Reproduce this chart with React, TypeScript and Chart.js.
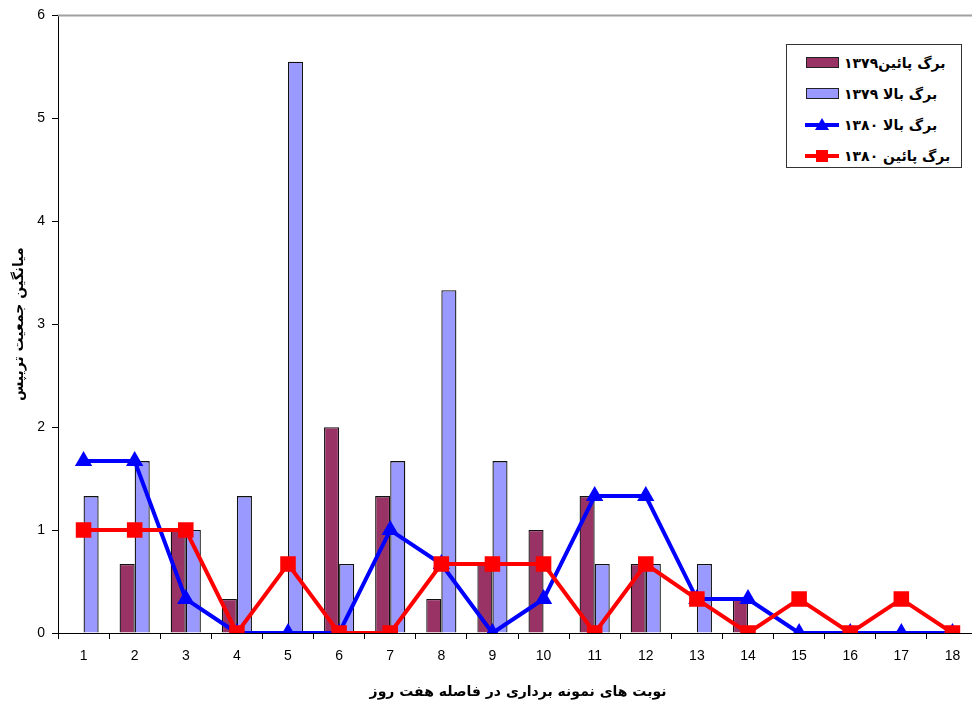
import { useEffect, useRef } from 'react';
import { Chart, registerables } from 'chart.js';

Chart.register(...registerables);

const CATEGORIES = ['1', '2', '3', '4', '5', '6', '7', '8', '9', '10', '11', '12', '13', '14', '15', '16', '17', '18'];
const LOWER_1379 = [0, 0.67, 1, 0.33, 0, 2, 1.33, 0.33, 0.67, 1, 1.33, 0.67, 0, 0.33, 0, 0, 0, 0];
const UPPER_1379 = [1.33, 1.67, 1, 1.33, 5.55, 0.67, 1.67, 3.33, 1.67, 0, 0.67, 0.67, 0.67, 0, 0, 0, 0, 0];
const UPPER_1380 = [1.67, 1.67, 0.33, 0, 0, 0, 1, 0.67, 0, 0.33, 1.33, 1.33, 0.33, 0.33, 0, 0, 0, 0];
const LOWER_1380 = [1, 1, 1, 0, 0.67, 0, 0, 0.67, 0.67, 0.67, 0, 0.67, 0.33, 0, 0.33, 0, 0.33, 0];

const LABEL_LOWER_1379 = 'برگ پائین۱۳۷۹';
const LABEL_UPPER_1379 = 'برگ بالا ۱۳۷۹';
const LABEL_UPPER_1380 = 'برگ بالا ۱۳۸۰';
const LABEL_LOWER_1380 = 'برگ پائین ۱۳۸۰';
const X_TITLE = 'نوبت های نمونه برداری در فاصله هفت روز';
const Y_TITLE = 'میانگین جمعیت تریپس';

const PURPLE = '#993366';
const LAVENDER = '#9999FF';
const BLUE = '#0000FF';
const RED = '#FF0000';
const NUM_FONT = '"Liberation Sans", Arial, sans-serif';
const FA_FONT = '"DejaVu Sans", sans-serif';

const plotTopBorder = {
  id: 'plotTopBorder',
  beforeDatasetsDraw(chart: any) {
    const { ctx, chartArea } = chart;
    ctx.save();
    ctx.strokeStyle = '#a0a0a0';
    ctx.lineWidth = 2;
    ctx.beginPath();
    ctx.moveTo(chartArea.left, chartArea.top);
    ctx.lineTo(chartArea.right, chartArea.top);
    ctx.stroke();
    ctx.restore();
  },
};

function LegendRow({ label, swatch }: { label: string; swatch: 'lower79' | 'upper79' | 'upper80' | 'lower80' }) {
  let icon;
  if (swatch === 'lower79' || swatch === 'upper79') {
    icon = (
      <div style={{ width: 31, height: 9, background: swatch === 'lower79' ? PURPLE : LAVENDER, border: '1px solid #222' }} />
    );
  } else {
    const color = swatch === 'upper80' ? BLUE : RED;
    icon = (
      <svg width={34} height={16}>
        <line x1={0} y1={8} x2={34} y2={8} stroke={color} strokeWidth={4} />
        {swatch === 'upper80'
          ? <polygon points="17,1 24,13 10,13" fill={color} />
          : <rect x={11} y={2} width={12} height={12} fill={color} />}
      </svg>
    );
  }
  return (
    <div style={{ display: 'flex', alignItems: 'center', height: 31 }}>
      <div style={{ width: 34, display: 'flex', justifyContent: 'center' }}>{icon}</div>
      <div dir="rtl" style={{ marginLeft: 5, fontFamily: FA_FONT, fontWeight: 'bold', fontSize: 14, color: '#000', whiteSpace: 'nowrap' }}>
        {label}
      </div>
    </div>
  );
}

export default function App() {
  const canvasRef = useRef<HTMLCanvasElement>(null);
  const chartRef = useRef<Chart | null>(null);

  useEffect(() => {
    if (!canvasRef.current) return;
    if (chartRef.current) chartRef.current.destroy();

    chartRef.current = new Chart(canvasRef.current, {
      type: 'bar',
      data: {
        labels: CATEGORIES,
        datasets: [
          {
            type: 'line',
            label: LABEL_LOWER_1380,
            data: LOWER_1380,
            borderColor: RED,
            backgroundColor: RED,
            borderWidth: 4,
            pointStyle: 'rect',
            pointRadius: 11,
            pointBorderWidth: 0,
            order: 0,
          } as any,
          {
            type: 'line',
            label: LABEL_UPPER_1380,
            data: UPPER_1380,
            borderColor: BLUE,
            backgroundColor: BLUE,
            borderWidth: 4,
            pointStyle: 'triangle',
            pointRadius: 10,
            pointBorderWidth: 0,
            order: 1,
          } as any,
          {
            label: LABEL_LOWER_1379,
            data: LOWER_1379,
            backgroundColor: PURPLE,
            borderColor: '#111',
            borderWidth: 1.3,
            categoryPercentage: 0.59,
            barPercentage: 1,
            order: 2,
          },
          {
            label: LABEL_UPPER_1379,
            data: UPPER_1379,
            backgroundColor: LAVENDER,
            borderColor: '#111',
            borderWidth: 1.3,
            categoryPercentage: 0.59,
            barPercentage: 1,
            order: 2,
          },
        ],
      },
      options: {
        responsive: true,
        maintainAspectRatio: false,
        animation: false,
        layout: { padding: { top: 14, right: 12, left: 0, bottom: 0 } },
        plugins: {
          legend: { display: false },
          tooltip: { enabled: false },
        },
        scales: {
          x: {
            grid: { display: true, drawOnChartArea: false, drawTicks: true, tickLength: 6, color: '#000', offset: true },
            border: { color: '#000', width: 1 },
            ticks: { color: '#000', font: { family: NUM_FONT, size: 14 }, padding: 9, maxRotation: 0, autoSkip: false },
            title: {
              display: true,
              text: X_TITLE,
              color: '#000',
              font: { family: FA_FONT, size: 14, weight: 'bold' },
              padding: { top: 0, bottom: 8 },
            },
            afterFit: (s: any) => { s.height = 76; },
          },
          y: {
            min: 0,
            max: 6,
            grid: { display: true, drawOnChartArea: false, drawTicks: true, tickLength: 6, color: '#000' },
            border: { color: '#000', width: 1 },
            ticks: { stepSize: 1, color: '#000', font: { family: NUM_FONT, size: 14 }, padding: 7 },
            title: {
              display: true,
              text: Y_TITLE,
              color: '#000',
              font: { family: FA_FONT, size: 14, weight: 'bold' },
              padding: { top: 11, bottom: 0 },
            },
            afterFit: (s: any) => { s.width = 58; },
          },
        },
      },
      plugins: [plotTopBorder],
    });

    return () => { chartRef.current?.destroy(); chartRef.current = null; };
  }, []);

  return (
    <div style={{ position: 'fixed', left: 0, top: 0, width: 972, height: 709, overflow: 'hidden', background: '#fff' }}>
      <div style={{ position: 'relative', width: 990, height: 709 }}>
        <canvas ref={canvasRef} />
      </div>
      <div
        style={{
          position: 'absolute',
          left: 786,
          top: 44,
          width: 176,
          height: 124,
          border: '1.5px solid #333',
          background: '#fff',
          boxSizing: 'border-box',
          paddingLeft: 18,
          paddingTop: 2,
        }}
      >
        <LegendRow label={LABEL_LOWER_1379} swatch="lower79" />
        <LegendRow label={LABEL_UPPER_1379} swatch="upper79" />
        <LegendRow label={LABEL_UPPER_1380} swatch="upper80" />
        <LegendRow label={LABEL_LOWER_1380} swatch="lower80" />
      </div>
    </div>
  );
}
